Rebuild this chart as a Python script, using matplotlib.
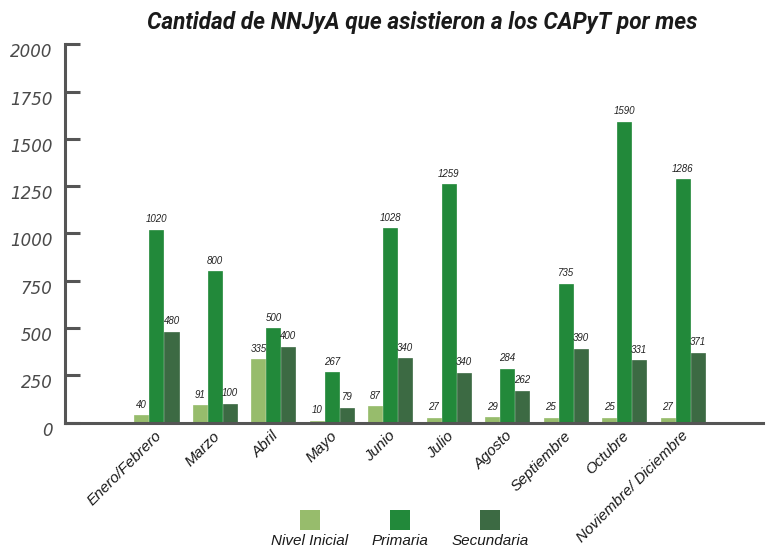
import matplotlib
matplotlib.use("Agg")
import matplotlib.pyplot as plt
from matplotlib.patches import Rectangle
from matplotlib.transforms import ScaledTranslation
import numpy as np

# data
months = ["Enero/Febrero", "Marzo", "Abril", "Mayo", "Junio", "Julio",
          "Agosto", "Septiembre", "Octubre", "Noviembre/ Diciembre"]
inicial = [40, 91, 335, 10, 87, 27, 29, 25, 25, 27]
primaria = [1020, 800, 500, 267, 1028, 1259, 284, 735, 1590, 1286]
# bar heights as drawn (Julio/Agosto bars do not match their printed labels)
secundaria = [480, 100, 400, 79, 340, 263, 170, 390, 331, 371]
secundaria_labels = ["480", "100", "400", "79", "340", "340", "262", "390", "331", "371"]
series_names = ["Nivel Inicial", "Primaria", "Secundaria"]
colors = ["#97bc6c", "#22893a", "#3c6a43"]
yticks = [0, 250, 500, 750, 1000, 1250, 1500, 1750, 2000]

body_font = ["Liberation Sans", "DejaVu Sans"]
axis_gray = "#555555"

fig = plt.figure(figsize=(7.71, 5.47), dpi=100)
ax = fig.add_axes([65 / 771, 1 - 422.7 / 547, (763 - 65) / 771, (422.7 - 44.3) / 547])

x = np.arange(len(months))
w = 0.24
step = 0.257
for k, (vals, col) in enumerate(zip([inicial, primaria, secundaria], colors)):
    ax.bar(x + (k - 1) * step, vals, width=w, color=col, edgecolor=col,
           linewidth=0.5, zorder=3)

label_sets = [[str(v) for v in inicial], [str(v) for v in primaria], secundaria_labels]
for k, (vals, labs) in enumerate(zip([inicial, primaria, secundaria], label_sets)):
    for xi, v, lab in zip(x, vals, labs):
        ax.annotate(lab, (xi + (k - 1) * step, v), xytext=(0, 4),
                    textcoords="offset points", ha="center", va="bottom",
                    fontsize=7, style="italic", color="#222222",
                    family=body_font)

ax.set_xlim(-1.565, 10.376)
ax.set_ylim(0, 2000)
ax.set_yticks(yticks)
ax.set_yticklabels([str(t) for t in yticks])
ax.set_xticks([])

for s in ["top", "right"]:
    ax.spines[s].set_visible(False)
for s in ["left", "bottom"]:
    ax.spines[s].set_color(axis_gray)
    ax.spines[s].set_linewidth(2.2)
    ax.spines[s].set_zorder(4)

ax.tick_params(axis="y", direction="in", length=11, width=2.2, color=axis_gray,
               pad=9, labelsize=12, labelcolor="#4a4a4a")
shift = ScaledTranslation(0, -6 / 100, fig.dpi_scale_trans)
for lab in ax.get_yticklabels():
    lab.set_style("italic")
    lab.set_family(["DejaVu Sans"])
    lab.set_transform(lab.get_transform() + shift)

# month labels, rotated
xoff = ScaledTranslation(3 / 100, -11 / 100, fig.dpi_scale_trans)
for xi, m in zip(x, months):
    ax.text(xi, 0, m, transform=ax.get_xaxis_transform() + xoff,
            rotation=45, rotation_mode="anchor", ha="right", va="center",
            fontsize=11, style="italic", color="#1a1a1a", family=body_font)

fig.text(422.5 / 771, 1 - 22 / 547, "Cantidad de NNJyA que asistieron a los CAPyT por mes",
         ha="center", va="center", fontsize=16.3, weight="bold", style="italic",
         color="#1a1a1a", family=["Roboto", "DejaVu Sans"])

# legend: squares above names
legend_x = [310, 400, 490]
for cx, name, col in zip(legend_x, series_names, colors):
    fig.patches.append(Rectangle(((cx - 10) / 771, 1 - 530 / 547), 20 / 771, 20 / 547,
                                 transform=fig.transFigure, facecolor=col,
                                 edgecolor="none"))
    fig.text(cx / 771, 1 - 541 / 547, name, ha="center", va="center",
             fontsize=11, style="italic", color="#1a1a1a", family=body_font)

fig.savefig("out.png", dpi=100)
